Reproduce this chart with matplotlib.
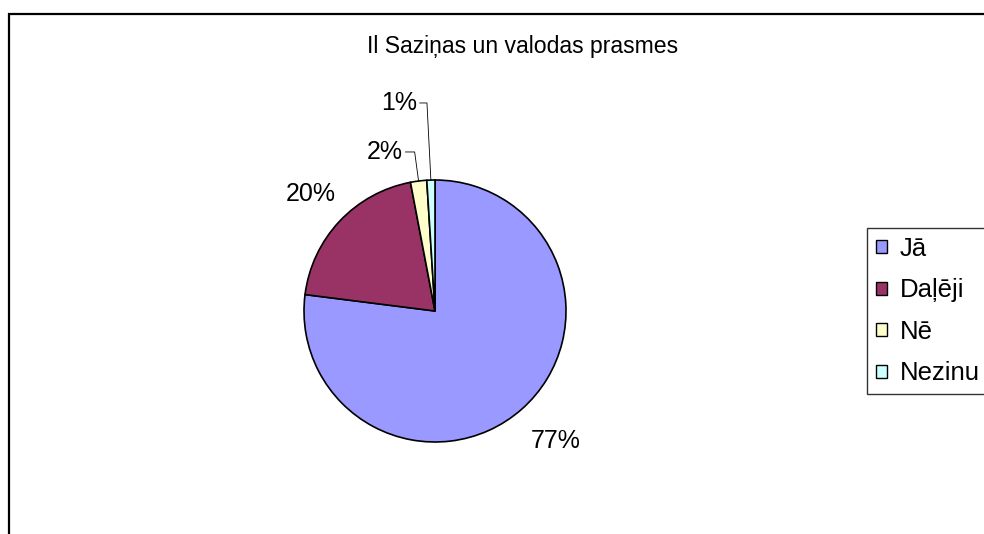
import numpy as np
import matplotlib
matplotlib.use("Agg")
import matplotlib.pyplot as plt
from matplotlib.patches import Rectangle

plt.rcParams['font.family'] = ['Liberation Sans', 'DejaVu Sans']

# data
title = "Il Saziņas un valodas prasmes"
categories = ["Jā", "Daļēji", "Nē", "Nezinu"]
values = [77, 20, 2, 1]
colors = ["#9999FF", "#993366", "#FFFFCC", "#CCFFFF"]

W, H = 984, 534
fig = plt.figure(figsize=(W / 100, H / 100), dpi=100)

# outer chart border (cut off at right/bottom like the screenshot)
fig.patches.append(Rectangle((9 / W, -0.1), 1.2, 1.0 + 0.1 - 14 / H,
                             transform=fig.transFigure, fill=False,
                             edgecolor="black", linewidth=1.6))

fig.text(523 / W, 1 - 47 / H, title, ha="center", va="center", fontsize=16.6)

# pie axes: center (435, 311) px, radius 131 px
cx, cy, r = 435, 311, 131
ax = fig.add_axes([(cx - r) / W, (H - cy - r) / H, 2 * r / W, 2 * r / H])
wedges, _ = ax.pie(values, colors=colors, startangle=90, counterclock=False,
                   wedgeprops=dict(edgecolor="black", linewidth=1.2))
ax.set_xlim(-1, 1)
ax.set_ylim(-1, 1)

total = sum(values)
for i, (w, v) in enumerate(zip(wedges, values)):
    mid = np.deg2rad((w.theta1 + w.theta2) / 2)
    ex, ey = np.cos(mid), np.sin(mid)
    txt = "%d%%" % round(100 * v / total)
    if i < 2:
        d = 1.3 if i == 1 else 1.32
        ax.text(d * ex + (0.05 if i == 0 else 0), d * ey, txt,
                ha="center", va="center", fontsize=18)
    else:
        # small slices: label above with leader line
        ty = 1.214 if i == 2 else 1.588
        tx = ex - 0.12 if i == 2 else ex - 0.105
        ax.text(tx, ty, txt, ha="right", va="center", fontsize=18, clip_on=False)
        ax.plot([tx + 0.02, ex - 0.03, ex], [ty, ty, ey], color="black",
                linewidth=0.6, clip_on=False)

leg = fig.legend(wedges, categories, loc="upper left",
                 bbox_to_anchor=(867 / W, 1 - 228 / H), borderaxespad=0,
                 fontsize=18.5, frameon=True, fancybox=False,
                 handlelength=0.42, handleheight=0.42, handletextpad=0.5,
                 labelspacing=0.68, borderpad=0.35)
leg.get_frame().set_edgecolor("black")
leg.get_frame().set_linewidth(1.0)
for h in leg.legend_handles:
    h.set_linewidth(1.0)

fig.savefig("out.png", dpi=100)
